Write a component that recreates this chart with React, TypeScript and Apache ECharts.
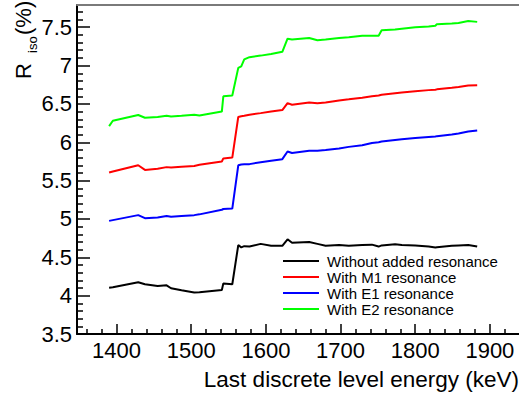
import React, { useEffect, useRef } from "react";
import * as echarts from "echarts";

const energies = [1390, 1395, 1429, 1438, 1455, 1467, 1473, 1487, 1504, 1511, 1541, 1543, 1555, 1563, 1567, 1571, 1578, 1593, 1607, 1622, 1629, 1635, 1658, 1669, 1680, 1698, 1711, 1729, 1742, 1751, 1755, 1773, 1782, 1800, 1818, 1827, 1829, 1849, 1858, 1871, 1883];

const withoutRes = [4.104, 4.11, 4.175, 4.149, 4.127, 4.135, 4.097, 4.07, 4.04, 4.045, 4.074, 4.16, 4.149, 4.66, 4.63, 4.645, 4.64, 4.675, 4.65, 4.65, 4.735, 4.69, 4.7, 4.675, 4.65, 4.66, 4.65, 4.66, 4.665, 4.64, 4.655, 4.67, 4.66, 4.655, 4.64, 4.627, 4.63, 4.65, 4.655, 4.66, 4.64];
const withM1 = [5.606, 5.62, 5.7, 5.64, 5.654, 5.676, 5.67, 5.68, 5.69, 5.706, 5.75, 5.79, 5.8, 6.33, 6.34, 6.345, 6.36, 6.38, 6.4, 6.42, 6.51, 6.49, 6.52, 6.51, 6.52, 6.546, 6.56, 6.58, 6.6, 6.61, 6.62, 6.64, 6.65, 6.665, 6.68, 6.685, 6.69, 6.71, 6.72, 6.74, 6.745];
const withE1 = [4.975, 4.985, 5.05, 5.01, 5.02, 5.04, 5.03, 5.04, 5.05, 5.06, 5.12, 5.13, 5.136, 5.7, 5.71, 5.712, 5.715, 5.74, 5.76, 5.78, 5.88, 5.86, 5.89, 5.89, 5.9, 5.92, 5.94, 5.96, 5.99, 6.0, 6.01, 6.03, 6.04, 6.055, 6.07, 6.076, 6.08, 6.1, 6.115, 6.14, 6.154];
const withE2 = [6.21, 6.28, 6.355, 6.32, 6.33, 6.345, 6.335, 6.345, 6.36, 6.35, 6.4, 6.6, 6.61, 6.97, 6.99, 7.08, 7.11, 7.13, 7.15, 7.18, 7.35, 7.34, 7.36, 7.33, 7.34, 7.36, 7.37, 7.39, 7.39, 7.39, 7.46, 7.47, 7.48, 7.5, 7.51, 7.52, 7.54, 7.55, 7.556, 7.58, 7.57];

const seriesNames = ["Without added resonance", "With M1 resonance", "With E1 resonance", "With E2 resonance"];
const seriesColors = ["#000000", "#ff0000", "#0000ff", "#00ff00"];
const seriesValues = [withoutRes, withM1, withE1, withE2];

const xMajorTicks = [1400, 1500, 1600, 1700, 1800, 1900];
const xMinorTicks = [1360, 1380, 1420, 1440, 1460, 1480, 1520, 1540, 1560, 1580, 1620, 1640, 1660, 1680, 1720, 1740, 1760, 1780, 1820, 1840, 1860, 1880, 1920];
const yMajorTicks = [3.5, 4, 4.5, 5, 5.5, 6, 6.5, 7, 7.5];
const yMinorTicks = [3.6, 3.7, 3.8, 3.9, 4.1, 4.2, 4.3, 4.4, 4.6, 4.7, 4.8, 4.9, 5.1, 5.2, 5.3, 5.4, 5.6, 5.7, 5.8, 5.9, 6.1, 6.2, 6.3, 6.4, 6.6, 6.7, 6.8, 6.9, 7.1, 7.2, 7.3, 7.4, 7.6, 7.7];

const xTitle = "Last discrete level energy (keV)";
const yTitleParts = ["R", "iso", "(%)"];

const X_MIN = 1347;
const X_MAX = 1939;
const Y_MIN = 3.5;
const Y_MAX = 7.79;

const FONT = "Liberation Sans, Arial, Helvetica, sans-serif";

export default function App() {
  const ref = useRef<HTMLDivElement>(null);
  useEffect(() => {
    if (!ref.current) return;
    const chart = echarts.init(ref.current, null, { renderer: "svg" });
    const axisBase = { type: "value", min: X_MIN, max: X_MAX, splitLine: { show: false } };
    const yBase = { type: "value", min: Y_MIN, max: Y_MAX, splitLine: { show: false } };
    chart.setOption({
      animation: false,
      backgroundColor: "#ffffff",
      grid: { left: 77, top: 5, right: 0, bottom: 60, containLabel: false },
      xAxis: [
        {
          ...axisBase,
          position: "bottom",
          axisLine: { show: true, lineStyle: { color: "#000", width: 2 } },
          axisTick: { show: true, inside: true, length: 10, lineStyle: { color: "#000", width: 1.5 }, customValues: xMajorTicks },
          axisLabel: { show: true, color: "#000", fontSize: 22, fontFamily: FONT, margin: 5, customValues: xMajorTicks, formatter: (v: number) => String(v) },
        },
        {
          ...axisBase,
          position: "bottom",
          axisLine: { show: false },
          axisTick: { show: true, inside: true, length: 5, lineStyle: { color: "#000", width: 1.5 }, customValues: xMinorTicks },
          axisLabel: { show: false },
        },
        {
          ...axisBase,
          position: "top",
          axisLine: { show: true, lineStyle: { color: "#7a7a7a", width: 2 } },
          axisTick: { show: false },
          axisLabel: { show: false },
        },
      ],
      yAxis: [
        {
          ...yBase,
          position: "left",
          axisLine: { show: true, lineStyle: { color: "#000", width: 2 } },
          axisTick: { show: true, inside: true, length: 13, lineStyle: { color: "#000", width: 1.5 }, customValues: yMajorTicks },
          axisLabel: { show: true, color: "#000", fontSize: 22, fontFamily: FONT, margin: 5, customValues: yMajorTicks },
        },
        {
          ...yBase,
          position: "left",
          axisLine: { show: false },
          axisTick: { show: true, inside: true, length: 6, lineStyle: { color: "#000", width: 1.5 }, customValues: yMinorTicks },
          axisLabel: { show: false },
        },
      ],
      legend: {
        data: seriesNames,
        left: 283,
        top: 253,
        orient: "vertical",
        icon: "rect",
        itemWidth: 36,
        itemHeight: 2,
        itemGap: 0,
        padding: 0,
        textStyle: { fontSize: 15, fontFamily: FONT, color: "#000", lineHeight: 16, padding: [0, 0, 0, 3] },
      },
      graphic: [
        { type: "text", x: 519, y: 391, style: { text: xTitle, fontSize: 22.5, fontFamily: FONT, fill: "#000", align: "right", verticalAlign: "bottom" } },
        { type: "text", x: 34, y: 79, rotation: Math.PI / 2, style: { text: yTitleParts[0], fontSize: 22, fontFamily: FONT, fill: "#000", align: "left", verticalAlign: "bottom" } },
        { type: "text", x: 39, y: 53, rotation: Math.PI / 2, style: { text: yTitleParts[1], fontSize: 13, fontFamily: FONT, fill: "#000", align: "left", verticalAlign: "bottom" } },
        { type: "text", x: 34, y: 35, rotation: Math.PI / 2, style: { text: yTitleParts[2], fontSize: 22, fontFamily: FONT, fill: "#000", align: "left", verticalAlign: "bottom" } },
      ],
      series: seriesValues.map((vals, i) => ({
        name: seriesNames[i],
        type: "line",
        xAxisIndex: 0,
        yAxisIndex: 0,
        symbol: "none",
        color: seriesColors[i],
        lineStyle: { width: 2, color: seriesColors[i] },
        data: energies.map((e, j) => [e, vals[j]]),
      })),
    });
    return () => chart.dispose();
  }, []);
  return <div ref={ref} style={{ width: 519, height: 394, position: "absolute", left: 0, top: 0 }} />;
}
